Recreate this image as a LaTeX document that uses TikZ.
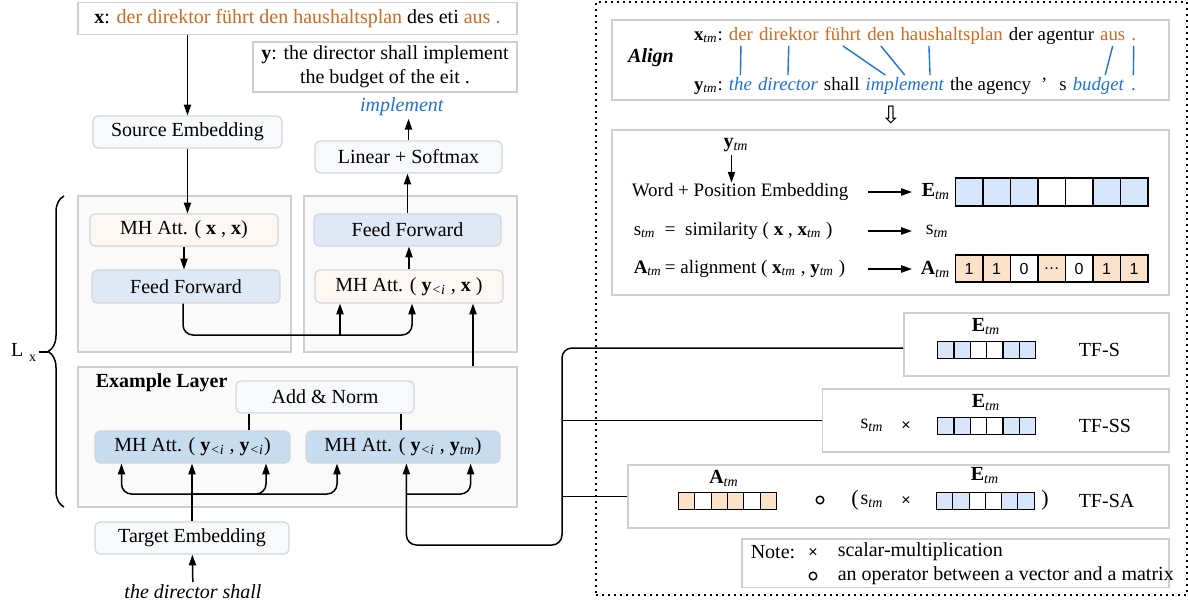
\documentclass[tikz,border=0pt]{standalone}
\usepackage{fontspec}
\setmainfont{Liberation Serif}
\newfontfamily\numfont{Liberation Sans}
\newfontfamily\arrowfont{DejaVu Sans}
\usetikzlibrary{arrows.meta,positioning,calc,decorations.pathreplacing}

\definecolor{srcorange}{HTML}{D2691E}
\definecolor{tgtblue}{HTML}{1F72D8}
\definecolor{panelgray}{HTML}{CFCFCF}
\definecolor{blockgray}{HTML}{D3D6DA}
\definecolor{panelfill}{HTML}{FAFAFA}
\definecolor{plainfill}{HTML}{F7F9FB}
\definecolor{attfill}{HTML}{FDF8F3}
\definecolor{fffill}{HTML}{DFE9F5}
\definecolor{exattfill}{HTML}{C8DCF0}
\definecolor{vecblue}{HTML}{D7E6FA}
\definecolor{vecorange}{HTML}{FCE2CA}

\newcommand{\sbtm}{\textsubscript{\textit{tm}}}
\newcommand{\sblt}{\textsubscript{\textit{<i}}}

\begin{document}
\begin{tikzpicture}[x=0.5pt,y=-0.5pt,>={Triangle[width=3.6pt,length=5.4pt]},line width=0.75pt,
  panel/.style={draw=panelgray,fill=panelfill,line width=0.6pt,inner sep=0},
  sentbox/.style={draw=panelgray,fill=white,line width=0.7pt,inner sep=0},
  block/.style={draw=blockgray,rounded corners=2.5pt,line width=0.6pt,inner sep=0,minimum height=16pt},
  word/.style={inner xsep=1.15pt,inner ysep=0.5pt,text height=6.6pt,text depth=2.1pt,font=\fontsize{9.4}{11}\selectfont},
  srcword/.style={word,text=srcorange},
  tgtword/.style={word,text=tgtblue,font=\fontsize{9.4}{11}\selectfont\itshape},
  link/.style={draw=tgtblue,line width=0.7pt},
  tmtext/.style={inner sep=0,anchor=west,font=\fontsize{9.5}{11.4}\selectfont},
  bigcell/.style={draw,line width=0.85pt,minimum width=13.75pt,minimum height=14pt,inner sep=0,anchor=west},
  minicell/.style={draw,line width=0.6pt,minimum width=8.17pt,minimum height=8.2pt,inner sep=0,anchor=west},
  opring/.style={circle,draw,line width=0.7pt,minimum size=3.8pt,inner sep=0},
  timesop/.style={inner sep=0,font=\numfont\footnotesize},
  lbl/.style={inner sep=0,anchor=west}]

\useasboundingbox (0,0) rectangle (1188,607);

% ---- Sentences on top ----
\node[sentbox,minimum width=219.5pt,minimum height=16pt] (xsent) at (297.5,18.5)
  {\textbf{x}: \textcolor{srcorange}{der direktor führt den haushaltsplan} des eti \textcolor{srcorange}{aus .}};
\node[sentbox,minimum width=132pt,minimum height=25pt,align=center] (ysent) at (385,67)
  {\textbf{y}: the director shall implement\\the budget of the eit .};
\node[inner sep=1pt,text=tgtblue] (impl) at (402,107) {\textit{implement}};

\node[block,fill=plainfill,minimum width=94.5pt] (srcemb) at (187.5,132) {Source Embedding};
\node[block,fill=plainfill,minimum width=93.5pt] (linsoft) at (408.5,157) {Linear + Softmax};

% ---- Encoder / decoder layers ----
\node[panel,minimum width=106.5pt,minimum height=78pt] (encbox) at (184.5,274) {};
\node[panel,minimum width=106.5pt,minimum height=78pt] (decbox) at (410.5,274) {};

\node[block,fill=attfill,minimum width=94pt] (mhxx) at (184,230) {MH Att. ( \textbf{x} , \textbf{x})};
\node[block,fill=fffill,minimum width=94pt,minimum height=16.5pt] (ffenc) at (186,286.5) {Feed Forward};
\node[block,fill=fffill,minimum width=93.5pt] (ffdec) at (407.5,230) {Feed Forward};
\node[block,fill=attfill,minimum width=94pt,minimum height=16.5pt] (mhyx) at (409,286.5) {MH Att. ( \textbf{y}\sblt{} , \textbf{x} )};

% ---- Example layer ----
\node[panel,minimum width=219.5pt,minimum height=70pt] (exlayer) at (297.5,437) {};
\node[lbl] (extitle) at (95,383) {\textbf{Example Layer}};
\node[block,fill=plainfill,minimum width=89pt] (addnorm) at (325,397) {Add \& Norm};
\node[block,fill=exattfill,minimum width=97.5pt] (mhyy) at (192.5,447) {MH Att. ( \textbf{y}\sblt{} , \textbf{y}\sblt)};
\node[block,fill=exattfill,minimum width=97pt] (mhytm) at (403,447) {MH Att. ( \textbf{y}\sblt{} , \textbf{y}\sbtm)};

\node[block,fill=plainfill,minimum width=97pt] (tgtemb) at (192,538) {Target Embedding};
\node[inner sep=1pt] (prefix) at (193,592) {\textit{the director shall}};

% ---- Layer brace ----
\coordinate (bracebot) at (64,507);
\coordinate (bracetop) at (64,196);
\coordinate (bracetip) at (48,352);
\draw[decorate,decoration={brace,amplitude=8pt}] (bracebot) -- (bracetop);
\node[inner sep=1pt,anchor=east] (lx) at (39,352) {L\hspace{3pt}\raisebox{-2.5pt}{\scriptsize x}};
\draw (bracetip) -- (lx.east);

% ---- Encoder / decoder arrows ----
\draw[->] (xsent.south -| srcemb.north) -- (srcemb.north);
\draw[->] (srcemb) -- (srcemb |- mhxx.north);
\draw[->] (mhxx) -- (mhxx |- ffenc.north);

\coordinate (crosslvl) at (0,335);
\coordinate (encout) at ([xshift=-1.5pt]ffenc.south);
\coordinate (crossx) at ([xshift=1.5pt]mhyx.south);
\coordinate (crossbr) at ([xshift=-34.5pt]mhyx.south);
\coordinate (exup) at ([xshift=32pt]mhyx.south);
\draw[->,rounded corners=5pt] (encout) -- (encout |- crosslvl) -| (crossx);
\draw[->] (crossbr |- crosslvl) -- (crossbr);
\draw[->] (exup |- exlayer.north) -- (exup);

\draw[->] (mhyx) -- (mhyx |- ffdec.south);
\draw[->] (ffdec) -- (ffdec |- linsoft.south);
\draw[->] (linsoft) -- (linsoft |- impl.south);

% ---- Example layer arrows ----
\coordinate (anl) at ([xshift=-38pt]addnorm.south);
\coordinate (anr) at ([xshift=38pt]addnorm.south);
\draw (anl) -- (anl |- mhyy.north);
\draw (anr) -- (anr |- mhytm.north);

\coordinate (splitlvl) at (0,494);
\coordinate (tgtsplit) at (tgtemb.north |- splitlvl);
\draw[->] (prefix) -- (tgtemb);
\draw[->] (tgtemb) -- (tgtemb |- mhyy.south);
\draw[->,rounded corners=5pt] (tgtsplit) -| ([xshift=-35.5pt]mhyy.south);
\draw[->,rounded corners=5pt] (tgtsplit) -| ([xshift=36.75pt]mhyy.south);
\draw[->,rounded corners=5pt] (tgtsplit) -| ([xshift=-33pt]mhytm.south);

% ---- Translation memory panel ----
\node[draw,line width=0.8pt,dash pattern=on 0.8pt off 2.2pt,minimum width=295.5pt,minimum height=296.5pt,inner sep=0] (tmframe) at (891.5,298.5) {};

% align box
\node[sentbox,minimum width=278.5pt,minimum height=40pt] (alignbox) at (890.5,60) {};
\node[inner sep=0] (aligntitle) at (651,58) {\textbf{\textit{Align}}};

\node[word,anchor=base west] (xtmlab) at (691,40) {\textbf{x}\sbtm:};
\node[srcword,base right=0pt of xtmlab] (xw1) {der};
\node[srcword,base right=0pt of xw1] (xw2) {direktor};
\node[srcword,base right=0pt of xw2] (xw3) {führt};
\node[srcword,base right=0pt of xw3] (xw4) {den};
\node[srcword,base right=0pt of xw4] (xw5) {haushaltsplan};
\node[word,base right=0pt of xw5] (xw6) {der agentur};
\node[srcword,base right=0pt of xw6] (xw7) {aus};
\node[srcword,base right=0pt of xw7] (xw8) {.};

\node[word,anchor=base west] (ytmlab) at (691,90) {\textbf{y}\sbtm:};
\node[tgtword,base right=0pt of ytmlab] (yw1) {the};
\node[tgtword,base right=0pt of yw1] (yw2) {director};
\node[word,base right=0pt of yw2] (yw3) {shall};
\node[tgtword,base right=0pt of yw3] (yw4) {implement};
\node[word,base right=0pt of yw4] (yw5) {the agency};
\node[word,base right=2pt of yw5] (yw6) {’};
\node[word,base right=3pt of yw6] (yw7) {s};
\node[tgtword,base right=0pt of yw7] (yw8) {budget};
\node[word,text=tgtblue,base right=0.5pt of yw8] (yw9) {.};

\draw[link] (xw1.south) -- (yw1.north);
\draw[link] (xw2.south) -- (yw2.north);
\draw[link] (xw3.south) -- ($(yw4.north west)!0.27!(yw4.north east)$);
\draw[link] (xw4.south) -- (yw4.north);
\draw[link] ($(xw5.south west)!0.29!(xw5.south east)$) -- ($(yw4.north west)!0.8!(yw4.north east)$);
\draw[link] (xw7.south) -- ($(yw8.north west)!0.62!(yw8.north east)$);
\draw[link] (xw8.south) -- (yw9.north);

\node[inner sep=0,font=\arrowfont\fontsize{12}{12}\selectfont] (alignarrow) at (891,115) {⇩};

% embedding box
\node[sentbox,minimum width=278.5pt,minimum height=82.5pt] (embbox) at (890.5,212.5) {};
\node[inner sep=1pt] (ytmin) at (736,145) {\textbf{y}\sbtm};
\node[tmtext] (wpe) at (631,192) {Word + Position Embedding};
\coordinate (ytmdown) at ([xshift=-2.25pt]ytmin.south);
\draw[->] (ytmdown) -- (ytmdown |- wpe.north);
\node[tmtext] (simeq) at (633,231) {s\sbtm\ \ =\ \ similarity ( \textbf{x} , \textbf{x}\sbtm{} )};
\node[tmtext] (aligneq) at (633,269) {\textbf{A}\sbtm\,=\ alignment ( \textbf{x}\sbtm{} ,\ \textbf{y}\sbtm{} )};

\node[lbl] (elab) at (921,192) {\textbf{E}\sbtm};
\node[lbl] (slab) at (925,231) {s\sbtm};
\node[lbl] (alab) at (920,269) {\textbf{A}\sbtm};
\coordinate (resx) at (868,0);
\draw[->] (resx |- elab) -- ([xshift=-4.5pt]elab.west);
\draw[->] (resx |- slab) -- ([xshift=-6.5pt]slab.west);
\draw[->] (resx |- alab) -- ([xshift=-4pt]alab.west);

\foreach \col [count=\i] in {vecblue,vecblue,vecblue,white,white,vecblue,vecblue}
  \node[bigcell,fill=\col] (ebig\i) at (954.5+27.5*\i-27.5,192) {};
\foreach \col/\val [count=\i] in {vecorange/1,vecorange/1,white/0,vecorange/\ldots,white/0,vecorange/1,vecorange/1}
  \node[bigcell,fill=\col,minimum height=13.5pt,font=\numfont\fontsize{8}{9}\selectfont] (abig\i) at (954.5+27.5*\i-27.5,268.5) {\val};

% TF-S
\node[sentbox,minimum width=132.6pt,minimum height=31.6pt] (tfs) at (1036.4,344.4) {};
\node[inner sep=0] (tfselab) at (986,327) {\textbf{E}\sbtm};
\foreach \col [count=\i] in {vecblue,vecblue,white,white,vecblue,vecblue}
  \node[minicell,fill=\col] (tfsvec\i) at (937+16.33*\i-16.33,350) {};
\node[lbl] (tfsname) at (1078,350) {TF-S};

% TF-SS
\node[sentbox,minimum width=173.3pt,minimum height=31.5pt] (tfss) at (995.7,420.5) {};
\node[inner sep=0] (tfsselab) at (986,403) {\textbf{E}\sbtm};
\node[inner sep=0] (tfssslab) at (872,425) {s\sbtm};
\node[timesop] (tfsstimes) at (906,426) {×};
\foreach \col [count=\i] in {vecblue,vecblue,white,white,vecblue,vecblue}
  \node[minicell,fill=\col] (tfssvec\i) at (937+16.33*\i-16.33,426) {};
\node[lbl] (tfssname) at (1078,426) {TF-SS};

% TF-SA
\node[sentbox,minimum width=270.5pt,minimum height=31.5pt] (tfsa) at (898.5,496.5) {};
\node[inner sep=0] (tfsaalab) at (724,478) {\textbf{A}\sbtm};
\foreach \col [count=\i] in {vecorange,white,vecorange,vecorange,white,vecorange}
  \node[minicell,fill=\col] (tfsaA\i) at (677.8+16.35*\i-16.35,501) {};
\node[opring] (tfsaring) at (820,500) {};
\node[inner sep=0,font=\fontsize{11}{12}\selectfont] (tfsalpar) at (855,500) {(};
\node[inner sep=0] (tfsaslab) at (872,501) {s\sbtm};
\node[timesop] (tfsatimes) at (906,501) {×};
\node[inner sep=0] (tfsaelab) at (985,476) {\textbf{E}\sbtm};
\foreach \col [count=\i] in {vecblue,vecblue,white,white,vecblue,vecblue}
  \node[minicell,fill=\col] (tfsaE\i) at (936+16.25*\i-16.25,501) {};
\node[inner sep=0,font=\fontsize{11}{12}\selectfont] (tfsarpar) at (1045,500) {)};
\node[lbl] (tfsaname) at (1078,501) {TF-SA};

% note
\node[sentbox,minimum width=213.5pt,minimum height=24.4pt] (note) at (955.5,563.3) {};
\node[lbl] (notelab) at (750,552) {Note:};
\node[timesop] (notetimes) at (813,553) {×};
\node[lbl] (notetimesdesc) at (837,552) {scalar-multiplication};
\node[opring] (notering) at (813,576) {};
\node[lbl] (noteringdesc) at (837,576) {an operator between a vector and a matrix};

% ---- Memory connectors ----
\coordinate (membus) at (562,545);
\coordinate (ytmin1) at ([xshift=1.7pt]mhytm.south);
\draw[->,rounded corners=5pt] ([yshift=-1.8pt]tfs.west) -| (membus) -| (ytmin1);
\draw (tfss.west) -- (tfss.west -| membus);
\draw (tfsa.west) -- (tfsa.west -| membus);
\draw[->,rounded corners=5pt] (ytmin1 |- splitlvl) -| ([xshift=33.8pt]mhytm.south);

\end{tikzpicture}
\end{document}
